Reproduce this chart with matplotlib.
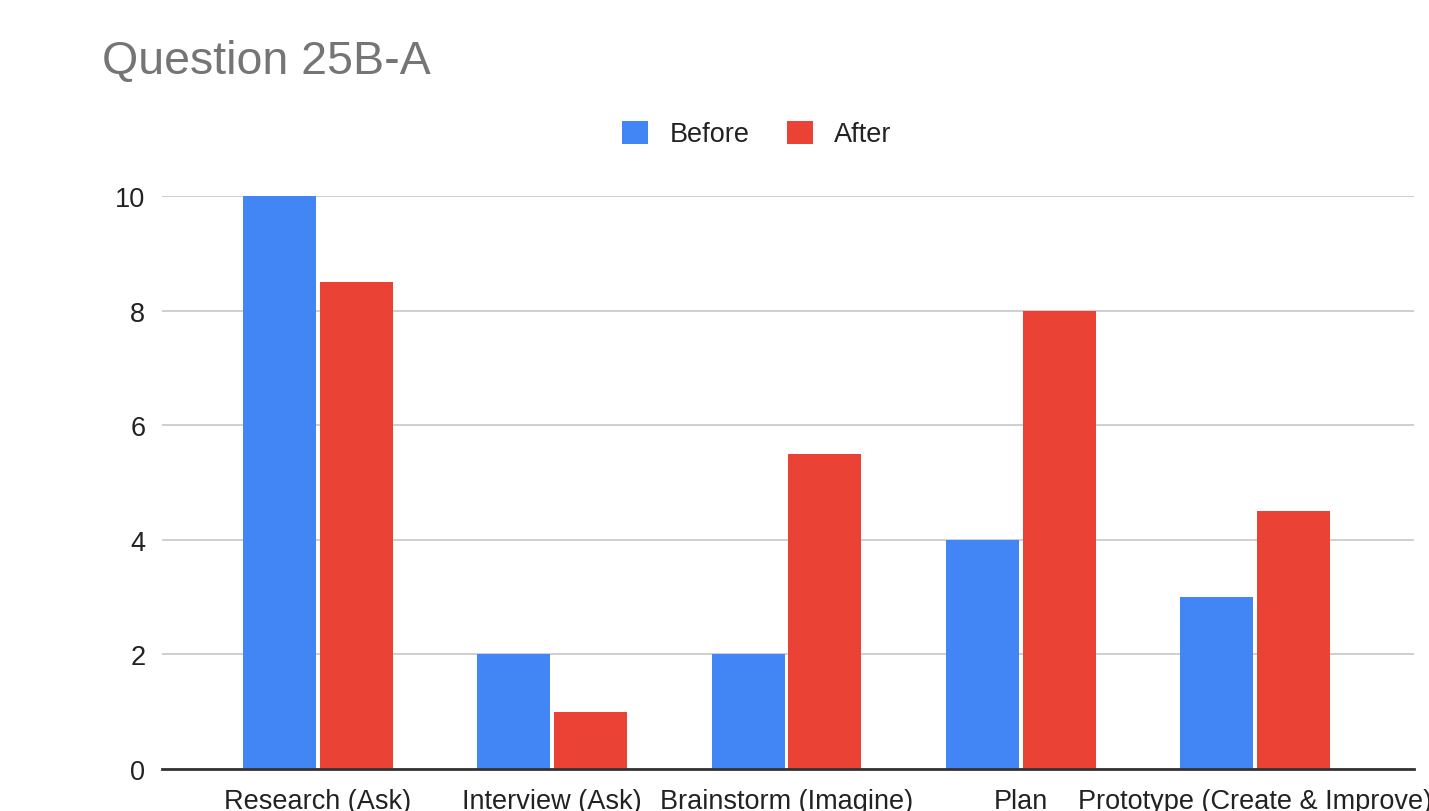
import matplotlib
matplotlib.use("Agg")
import matplotlib.pyplot as plt
import numpy as np

plt.rcParams['font.family'] = ['Liberation Sans', 'DejaVu Sans']

categories = ["Research (Ask)", "Interview (Ask)", "Brainstorm (Imagine)", "Plan",
              "Prototype (Create & Improve)"]
before = [10, 2, 2, 4, 3]
after = [8.5, 1, 5.5, 8, 4.5]
y_ticks = [0, 2, 4, 6, 8, 10]

blue = "#4285F4"
red = "#EA4335"
label_size = 19.5

fig = plt.figure(figsize=(14.29, 8.12), dpi=100)
ax = fig.add_axes([162 / 1429, 42 / 812, (1414 - 162) / 1429, (770 - 197) / 812])

x = np.arange(len(categories))
w = 0.312
off = 0.164
b1 = ax.bar(x - off, before, width=w, color=blue, label="Before", zorder=3)
b2 = ax.bar(x + off, after, width=w, color=red, label="After", zorder=3)

ax.set_xlim(-0.666, 4.679)
ax.set_ylim(0, 10)
ax.set_yticks(y_ticks)
ax.set_yticklabels([str(v) for v in y_ticks])
ax.set_xticks(x)
ax.set_xticklabels(categories)
ax.tick_params(axis='x', length=0, pad=14, labelsize=label_size, colors="#222222")
ax.tick_params(axis='y', length=0, pad=12, labelsize=label_size, colors="#222222")

ax.grid(axis='y', color="#cccccc", linewidth=1.3, zorder=0)
for s in ["top", "right", "left"]:
    ax.spines[s].set_visible(False)
ax.spines["bottom"].set_color("#333333")
ax.spines["bottom"].set_linewidth(2)
ax.spines["bottom"].set_zorder(4)

fig.text(102 / 1429, 1 - 62 / 812, "Question 25B-A", fontsize=33.5, color="#757575",
         va="center", ha="left")

leg = fig.legend(handles=[b1, b2], labels=["Before", "After"], loc="center",
                 bbox_to_anchor=(757 / 1429, 1 - 135 / 812), ncol=2, frameon=False,
                 fontsize=label_size, handlelength=0.95, handleheight=0.95,
                 handletextpad=0.8, columnspacing=1.37)
for t in leg.get_texts():
    t.set_color("#222222")

fig.savefig("out.png", dpi=100)
